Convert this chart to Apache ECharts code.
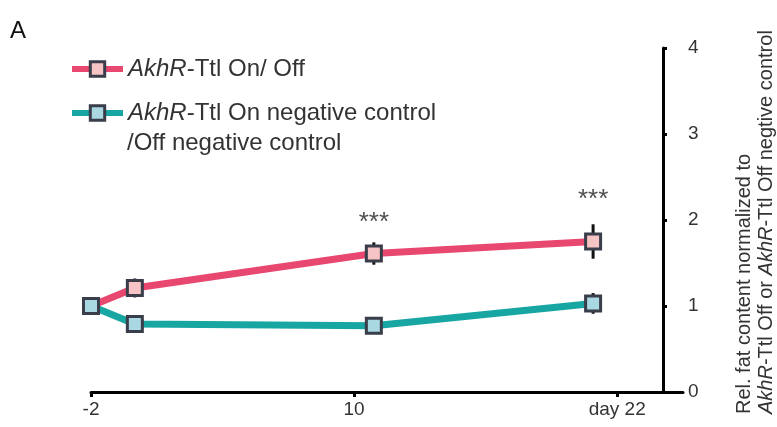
<!DOCTYPE html>
<html><head><meta charset="utf-8">
<script src="https://cdn.jsdelivr.net/npm/echarts@6/dist/echarts.min.js"></script>
<style>html,body{margin:0;padding:0;background:#fff}#c{width:777px;height:427px}</style>
</head><body><div id="c"></div>
<script>
// ---- data ----
const days = [-2, 0, 10.9, 20.9];
const onOff = [1.0, 1.21, 1.61, 1.75];
const onOffErr = [0, 0.11, 0.13, 0.2];
const negCtrl = [1.0, 0.79, 0.77, 1.03];
const negCtrlErr = [0, 0.03, 0.03, 0.12];
const xTicks = [-2, 10, 22];
const xTickLabels = {'-2': '-2', '10': '10', '22': 'day 22'};
const starX = [10.9, 20.9];
const starY = [1.97, 2.24];
const starText = ['***', '***'];
const seriesNames = ['AkhR-Ttl On/ Off', 'AkhR-Ttl On negative control'];

const FONT = "'Liberation Sans', Arial, sans-serif";
const TXT = '#333';
const pink = '#E8486F', teal = '#18A6A2';

function pts(ys) { return days.map((d, i) => [d, ys[i]]); }
function errPts(ys, es) { return days.map((d, i) => [d, ys[i] - es[i], ys[i] + es[i]]); }

const errRender = function (params, api) {
  const lo = api.coord([api.value(0), api.value(1)]);
  const hi = api.coord([api.value(0), api.value(2)]);
  return { type: 'line', shape: { x1: lo[0], y1: lo[1], x2: hi[0], y2: hi[1] },
    style: { stroke: '#111', lineWidth: 3 } };
};

const chart = echarts.init(document.getElementById('c'), null, { renderer: 'canvas' });
chart.setOption({
  animation: false,
  grid: { left: 91, right: 94, top: 48, bottom: 35 },
  xAxis: {
    type: 'value', min: -2, max: 25,
    splitLine: { show: false },
    axisLine: { onZero: false, lineStyle: { color: '#000', width: 3 } },
    axisTick: { show: true, length: 5, lineStyle: { color: '#000', width: 3 }, customValues: xTicks },
    axisLabel: { customValues: xTicks, formatter: v => xTickLabels[String(v)] || '',
      color: TXT, fontSize: 19, fontFamily: FONT, margin: 8 }
  },
  yAxis: {
    type: 'value', min: 0, max: 4, interval: 1, position: 'right', offset: -20,
    splitLine: { show: false },
    axisLine: { show: true, onZero: false, lineStyle: { color: '#000', width: 3 } },
    axisTick: { show: true, length: 4, lineStyle: { color: '#000', width: 3 } },
    axisLabel: { color: TXT, fontSize: 19, fontFamily: FONT, margin: 25 }
  },
  legend: {
    left: 64, top: 52, padding: 5, orient: 'vertical', itemWidth: 51, itemHeight: 18, itemGap: 20,
    data: seriesNames,
    lineStyle: { width: 6 },
    itemStyle: { borderWidth: 3, borderColor: '#3a3d4a' },
    textStyle: { color: TXT, fontSize: 24, fontFamily: FONT,
      rich: { i: { fontStyle: 'italic', fontSize: 24, fontFamily: FONT, color: TXT } } },
    formatter: n => n.replace('AkhR', '{i|AkhR}')
  },
  graphic: [
    { type: 'text', left: 10, top: 19, style: { text: 'A', fontSize: 24, fontFamily: FONT, fill: '#111' } },
    { type: 'text', left: 127, top: 131, style: { text: '/Off negative control', fontSize: 24, fontFamily: FONT, fill: TXT } },
    { type: 'text', x: 733, y: 414, rotation: Math.PI / 2,
      style: { text: 'Rel. fat content normalized to\n{i|AkhR}-Ttl Off or {i|AkhR}-Ttl Off negtive control',
        fontSize: 20, lineHeight: 22, fontFamily: FONT, fill: TXT, align: 'left', verticalAlign: 'top',
        rich: { i: { fontStyle: 'italic', fontSize: 20, lineHeight: 22, fontFamily: FONT, fill: TXT } } } }
  ],
  series: [
    { type: 'custom', name: 'errA', renderItem: errRender, data: errPts(onOff, onOffErr), z: 1, silent: true },
    { type: 'custom', name: 'errB', renderItem: errRender, data: errPts(negCtrl, negCtrlErr), z: 1, silent: true },
    { type: 'line', name: seriesNames[1], data: pts(negCtrl), z: 3,
      lineStyle: { color: teal, width: 7 }, itemStyle: { color: '#A9D8E2', borderColor: '#3a3d4a', borderWidth: 3 },
      symbol: 'rect', symbolSize: 15, showAllSymbol: true },
    { type: 'line', name: seriesNames[0], data: pts(onOff), z: 2,
      lineStyle: { color: pink, width: 7 }, itemStyle: { color: '#F6C4C4', borderColor: '#3a3d4a', borderWidth: 3 },
      symbol: 'rect', symbolSize: 15, showAllSymbol: true },
    { type: 'scatter', name: 'stars', symbolSize: 0, silent: true,
      data: starX.map((x, i) => ({ value: [x, starY[i]], label: { formatter: starText[i] } })),
      label: { show: true, position: 'inside', fontSize: 26, color: '#222', fontFamily: FONT } }
  ]
});
</script></body></html>
